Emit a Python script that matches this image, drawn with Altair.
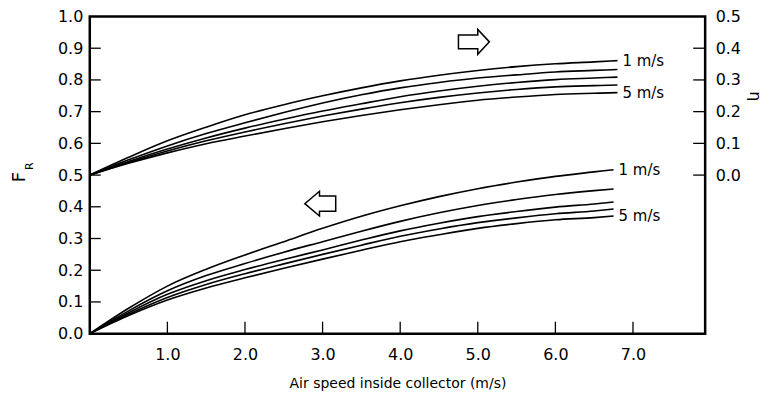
import altair as alt
import pandas as pd

# ---------------- data ----------------
speeds = ["1 m/s", "2 m/s", "3 m/s", "4 m/s", "5 m/s"]

x_upper = [0, 0.5, 1.0, 1.5, 2.0, 2.5, 3.0, 3.5, 4.0, 4.5, 5.0, 5.5, 6.0, 6.5, 6.8]
eta_1 = [0.000, 0.056, 0.108, 0.151, 0.190, 0.222, 0.250, 0.275, 0.297, 0.315, 0.330, 0.342, 0.351, 0.357, 0.361]
eta_2 = [0.000, 0.048, 0.092, 0.131, 0.165, 0.197, 0.227, 0.253, 0.275, 0.292, 0.306, 0.316, 0.325, 0.330, 0.333]
eta_3 = [0.000, 0.043, 0.082, 0.117, 0.148, 0.176, 0.202, 0.225, 0.247, 0.265, 0.280, 0.292, 0.301, 0.306, 0.309]
eta_4 = [0.000, 0.040, 0.076, 0.108, 0.136, 0.162, 0.186, 0.208, 0.228, 0.245, 0.259, 0.270, 0.278, 0.282, 0.284]
eta_5 = [0.000, 0.037, 0.070, 0.099, 0.123, 0.146, 0.168, 0.188, 0.206, 0.222, 0.236, 0.246, 0.254, 0.258, 0.260]

x_lower = [0, 0.5, 1.0, 1.5, 2.0, 2.5, 3.0, 3.5, 4.0, 4.5, 5.0, 5.5, 6.0, 6.5, 6.75]
fr_1 = [0.000, 0.080, 0.150, 0.203, 0.248, 0.290, 0.332, 0.370, 0.403, 0.432, 0.457, 0.478, 0.496, 0.510, 0.517]
fr_2 = [0.000, 0.072, 0.135, 0.183, 0.221, 0.257, 0.290, 0.323, 0.354, 0.381, 0.404, 0.423, 0.439, 0.451, 0.456]
fr_3 = [0.000, 0.066, 0.124, 0.167, 0.202, 0.234, 0.264, 0.295, 0.324, 0.348, 0.369, 0.385, 0.399, 0.409, 0.415]
fr_4 = [0.000, 0.061, 0.114, 0.155, 0.189, 0.220, 0.250, 0.279, 0.307, 0.330, 0.350, 0.365, 0.378, 0.387, 0.393]
fr_5 = [0.000, 0.057, 0.106, 0.144, 0.176, 0.206, 0.235, 0.263, 0.290, 0.312, 0.332, 0.347, 0.359, 0.366, 0.371]

x_ticks = [1.0, 2.0, 3.0, 4.0, 5.0, 6.0, 7.0]
fr_ticks = [0.0, 0.1, 0.2, 0.3, 0.4, 0.5, 0.6, 0.7, 0.8, 0.9, 1.0]
eta_ticks = [0.0, 0.1, 0.2, 0.3, 0.4, 0.5]

# arrows: (x, value) — upper one points to the eta axis, lower one to the F_R axis
arrow_eta_x, arrow_eta_y = [4.95], [0.42]
arrow_fr_x, arrow_fr_y = [2.97], [0.41]

FONT = "DejaVu Sans"
W, H = 617, 318

# ---------------- frames ----------------
upper = pd.DataFrame(
    [
        {"x": x, "v": v, "speed": s}
        for s, vals in zip(speeds, [eta_1, eta_2, eta_3, eta_4, eta_5])
        for x, v in zip(x_upper, vals)
    ]
)
lower = pd.DataFrame(
    [
        {"x": x, "v": v, "speed": s}
        for s, vals in zip(speeds, [fr_1, fr_2, fr_3, fr_4, fr_5])
        for x, v in zip(x_lower, vals)
    ]
)
upper_lab = pd.DataFrame(
    [
        {"x": x_upper[-1], "v": eta_1[-1], "label": speeds[0], "dy": -1},
        {"x": x_upper[-1], "v": eta_5[-1], "label": speeds[4], "dy": 3},
    ]
)
lower_lab = pd.DataFrame(
    [
        {"x": x_lower[-1], "v": fr_1[-1], "label": speeds[0], "dy": 1},
        {"x": x_lower[-1], "v": fr_5[-1], "label": speeds[4], "dy": 3},
    ]
)

XS = alt.Scale(domain=[0, 7.93], nice=False, zero=False)
YL = alt.Scale(domain=[0, 1], nice=False, zero=False)
YR = alt.Scale(domain=[-0.5, 0.5], nice=False, zero=False)

xaxis = alt.Axis(
    values=x_ticks, format=".1f", ticks=False, domain=False, grid=False,
    labelPadding=13, title="Air speed inside collector (m/s)", titlePadding=14,
    labelFont=FONT, labelFontSize=16, titleFont=FONT, titleFontSize=14,
    titleFontWeight="normal", labelColor="black", titleColor="black",
)
X = alt.X("x:Q", scale=XS, axis=xaxis)

left_axis = alt.Axis(
    values=fr_ticks, format=".1f", ticks=False, domain=False, grid=False,
    labelPadding=7, title=None, labelFont=FONT, labelFontSize=16, labelColor="black",
)
right_axis = alt.Axis(
    orient="right", values=eta_ticks, format=".1f", ticks=False, domain=False,
    grid=False, labelPadding=10, title=None,
    labelFont=FONT, labelFontSize=16, labelColor="black",
)

lower_lines = alt.Chart(lower).mark_line(
    color="black", strokeWidth=1.6, interpolate="monotone"
).encode(x=X, y=alt.Y("v:Q", scale=YL, axis=left_axis), detail="speed:N")

upper_lines = alt.Chart(upper).mark_line(
    color="black", strokeWidth=1.6, interpolate="monotone"
).encode(x=X, y=alt.Y("v:Q", scale=YR, axis=right_axis), detail="speed:N")

upper_text = alt.Chart(upper_lab).mark_text(
    align="left", baseline="middle", dx=5, font=FONT, fontSize=15, color="black"
).encode(x=X, y=alt.Y("v:Q", scale=YR, axis=None), text="label:N",
         yOffset="dy:Q")

lower_text = alt.Chart(lower_lab).mark_text(
    align="left", baseline="middle", dx=5, font=FONT, fontSize=15, color="black"
).encode(x=X, y=alt.Y("v:Q", scale=YL, axis=None), text="label:N",
         yOffset="dy:Q")

right_arrow = "M -1 -0.45 L 0.25 -0.45 L 0.25 -0.8 L 1 0 L 0.25 0.8 L 0.25 0.45 L -1 0.45 Z"
left_arrow = "M 1 -0.5 L -0.05 -0.5 L -0.05 -0.8 L -1 0 L -0.05 0.8 L -0.05 0.5 L 1 0.5 Z"

arrow_up = alt.Chart(pd.DataFrame({"x": arrow_eta_x, "v": arrow_eta_y})).mark_point(
    shape=right_arrow, size=961, filled=False, stroke="black", strokeWidth=1.5, opacity=1
).encode(x=X, y=alt.Y("v:Q", scale=YR, axis=None))

arrow_lo = alt.Chart(pd.DataFrame({"x": arrow_fr_x, "v": arrow_fr_y})).mark_point(
    shape=left_arrow, size=961, filled=False, stroke="black", strokeWidth=1.5, opacity=1
).encode(x=X, y=alt.Y("v:Q", scale=YL, axis=None))

# inward tick marks
left_ticks = alt.Chart(pd.DataFrame({"v": fr_ticks[1:-1]})).mark_rule(
    color="black", strokeWidth=1.3
).encode(y=alt.Y("v:Q", scale=YL, axis=None), x=alt.value(0), x2=alt.value(11))

right_ticks = alt.Chart(pd.DataFrame({"v": eta_ticks[:-1]})).mark_rule(
    color="black", strokeWidth=1.3
).encode(y=alt.Y("v:Q", scale=YR, axis=None), x=alt.value(W), x2=alt.value(W - 12))

bottom_ticks = alt.Chart(pd.DataFrame({"x": x_ticks})).mark_rule(
    color="black", strokeWidth=1.3
).encode(x=X, y=alt.value(H), y2=alt.value(H - 12))

# F_R axis title (F with subscript R)
ftitle = alt.Chart(pd.DataFrame({"t": ["F"]})).mark_text(
    angle=270, font=FONT, fontSize=18, color="black", align="center", baseline="middle"
).encode(x=alt.value(-70), y=alt.value(161), text="t:N")
rtitle = alt.Chart(pd.DataFrame({"t": ["R"]})).mark_text(
    angle=270, font=FONT, fontSize=11, color="black", align="center", baseline="middle"
).encode(x=alt.value(-60), y=alt.value(150), text="t:N")

# eta axis title
etitle = alt.Chart(pd.DataFrame({"t": ["η"]})).mark_text(
    angle=90, font=FONT, fontSize=16, color="black", align="center", baseline="middle"
).encode(x=alt.value(W + 50), y=alt.value(80), text="t:N")

chart = alt.layer(
    lower_lines, upper_lines, upper_text, lower_text, arrow_up, arrow_lo,
    left_ticks, right_ticks, bottom_ticks, ftitle, rtitle, etitle,
).resolve_scale(y="independent").properties(
    width=W, height=H,
    autosize=alt.AutoSizeParams(type="none"),
    padding={"left": 82, "top": 8, "right": 60, "bottom": 70},
).configure(
    background="white"
).configure_view(
    stroke="black", strokeWidth=2.5
)

chart.save("out.html", embed_options={"renderer": "svg", "actions": False})
